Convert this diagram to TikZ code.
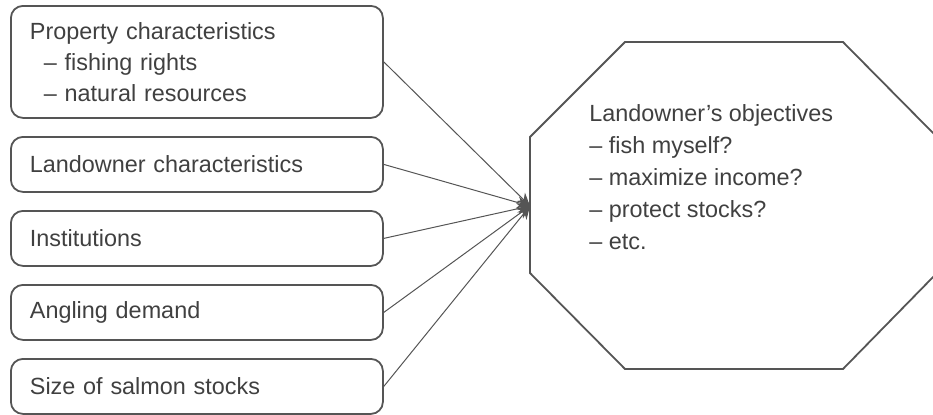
\documentclass[tikz,border=0pt]{standalone}
\usepackage{fontspec}
\setmainfont{Liberation Sans}
\usetikzlibrary{arrows.meta}
\definecolor{linegray}{HTML}{555555}
\definecolor{textgray}{HTML}{404040}
\begin{document}
\begin{tikzpicture}[x=0.5pt,y=-0.5pt,
  box/.style={draw=linegray, line width=0.9pt, rounded corners=6pt, anchor=north west,
    minimum width=186pt, text width=167pt, inner xsep=9.5pt, align=left,
    text=textgray, font=\fontsize{11.7pt}{15.5pt}\selectfont},
  conn/.style={draw=linegray, line width=0.5pt, -{Stealth[length=6.5pt,width=6pt]}}]
\useasboundingbox (0,0) rectangle (933,414);
\node[box, minimum height=56pt] (b1) at (10,5) {Property characteristics\\\hspace*{7pt}– fishing rights\\\hspace*{7pt}– natural resources};
\node[box, minimum height=27.5pt] (b2) at (10,136) {Landowner characteristics};
\node[box, minimum height=27.5pt] (b3) at (10,210) {Institutions};
\node[box, minimum height=27.5pt] (b4) at (10,284) {Angling demand};
\node[box, minimum height=27.5pt] (b5) at (10,358) {Size of salmon stocks};
\draw[linegray, line width=0.9pt] (625,42) -- (843,42) -- (937,137) -- (937,273) -- (843,369) -- (625,369) -- (530,273) -- (530,137) -- cycle;
\coordinate (obj) at (530,206);
\node[anchor=north west, inner sep=0pt, align=left, text=textgray,
  font=\fontsize{11.7pt}{16pt}\selectfont] (objtext) at (589,104)
  {Landowner’s objectives\\– fish myself?\\– maximize income?\\– protect stocks?\\– etc.};
\foreach \b in {b1,b2,b3,b4,b5} \draw[conn] (\b.east) -- (obj);
\end{tikzpicture}
\end{document}
